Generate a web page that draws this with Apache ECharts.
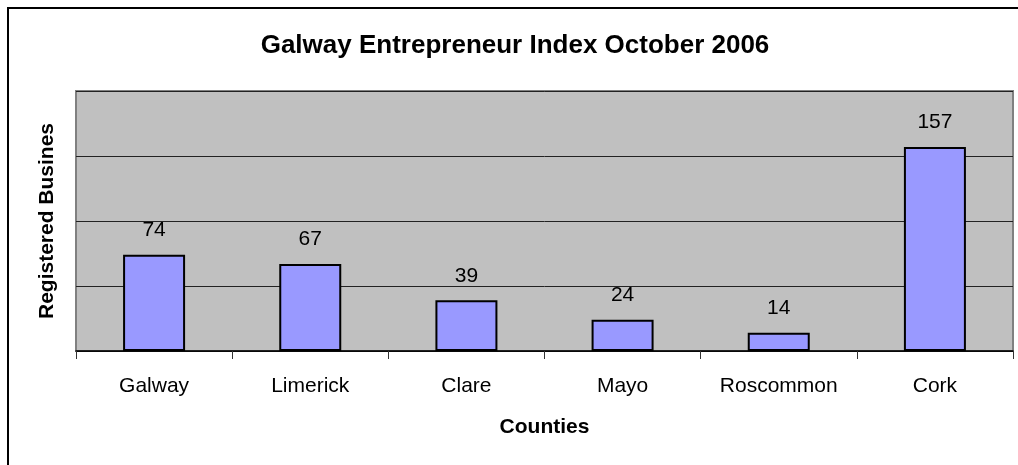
<!DOCTYPE html>
<html>
<head>
<meta charset="utf-8">
<script src="https://cdn.jsdelivr.net/npm/echarts@6/dist/echarts.min.js"></script>
<style>
  html, body { margin: 0; padding: 0; background: #fff; }
  #chart { width: 1018px; height: 465px; }
</style>
</head>
<body>
<div id="chart"></div>
<script>
// Galway Entrepreneur Index, October 2006
const counties = ['Galway', 'Limerick', 'Clare', 'Mayo', 'Roscommon', 'Cork'];
const registered = [74, 67, 39, 24, 14, 157];
const yMin = 0, yMax = 200, yStep = 50;

const FONT = '"Liberation Sans", Arial, sans-serif';

const chart = echarts.init(document.getElementById('chart'));

chart.setOption({
    backgroundColor: '#fff',
    animation: false,
    textStyle: { fontFamily: FONT },
    title: {
        text: 'Galway Entrepreneur Index October 2006',
        left: 510, top: 28, textAlign: 'center',
        textStyle: { fontFamily: FONT, fontSize: 26, fontWeight: 'bold', color: '#000' }
    },
    graphic: [{
        type: 'rect', z: -1, silent: true,
        shape: { x: 8, y: 8, width: 1200, height: 600 },
        style: { fill: 'none', stroke: '#000', lineWidth: 2 }
    }],
    grid: {
        left: 76, top: 91, right: 5, bottom: 114,
        show: true, backgroundColor: '#c0c0c0', borderColor: '#808080', borderWidth: 2
    },
    xAxis: {
        type: 'category', data: counties,
        name: 'Counties', nameLocation: 'middle', nameGap: 66,
        nameTextStyle: { fontFamily: FONT, fontSize: 21, fontWeight: 'bold', color: '#000' },
        axisLine: { lineStyle: { color: '#000', width: 1.5 } },
        axisTick: { show: true, length: 8, lineStyle: { color: '#333' } },
        axisLabel: { fontFamily: FONT, fontSize: 21, color: '#000', margin: 25 }
    },
    yAxis: {
        type: 'value', min: yMin, max: yMax, interval: yStep,
        name: 'Registered Busines', nameLocation: 'middle', nameGap: 18,
        nameTextStyle: { fontFamily: FONT, fontSize: 21, fontWeight: 'bold', color: '#000' },
        axisLine: { show: false }, axisTick: { show: false },
        axisLabel: { show: false },
        splitLine: { lineStyle: { color: '#222', width: 1 } }
    },
    series: [{
        type: 'bar', data: registered, barWidth: 62,
        itemStyle: { color: '#9999ff', borderColor: '#000', borderWidth: 2 },
        label: {
            show: true, position: 'top', distance: 14,
            fontFamily: FONT, fontSize: 21, color: '#000'
        }
    }]
});
</script>
</body>
</html>
